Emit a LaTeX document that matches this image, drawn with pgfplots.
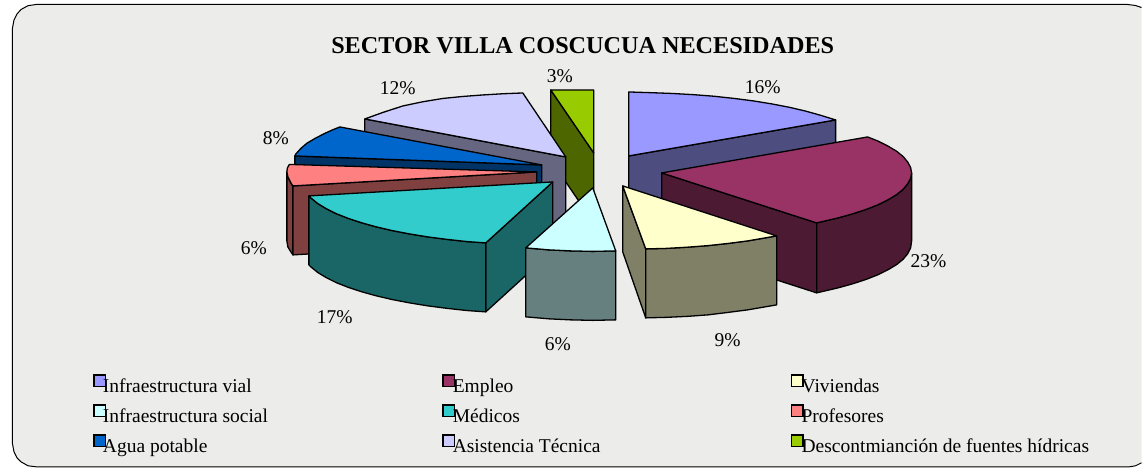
\documentclass[border=0pt]{standalone}
\usepackage{pgfplots}
\pgfplotsset{compat=1.18}
\usepackage{fontspec}
\setmainfont{Liberation Serif}
\definecolor{bgc}{HTML}{ECECEA}
\definecolor{aT}{HTML}{9999FF}\definecolor{aS}{HTML}{4D4D80}
\definecolor{bT}{HTML}{993366}\definecolor{bS}{HTML}{4D1A33}
\definecolor{cT}{HTML}{FFFFCC}\definecolor{cS}{HTML}{808066}
\definecolor{dT}{HTML}{CCFFFF}\definecolor{dS}{HTML}{668080}
\definecolor{eT}{HTML}{33CCCC}\definecolor{eS}{HTML}{1A6666}
\definecolor{fT}{HTML}{FF8080}\definecolor{fS}{HTML}{804040}
\definecolor{gT}{HTML}{0066CC}\definecolor{gS}{HTML}{003366}
\definecolor{hT}{HTML}{CCCCFF}\definecolor{hS}{HTML}{666680}
\definecolor{iT}{HTML}{99CC00}\definecolor{iS}{HTML}{4D6600}
\tikzset{sl/.style={fill=#1,draw=black,line width=1.3pt,line join=round},
  ky/.style={fill=#1,draw=black,line width=1.6pt,line join=miter},
  tx/.style={font=\fontsize{19.5}{21}\selectfont,text=black,inner sep=0pt,outer sep=0pt}}
\begin{document}
\begin{tikzpicture}
\begin{axis}[x=1pt,y=1pt,scale only axis,width=1142pt,height=468pt,
  xmin=0,xmax=1142,ymin=0,ymax=468,y dir=reverse,axis lines=none,clip=false]
\addplot[draw=none] coordinates {(0,0)(1142,468)};
% frame
\addplot[fill=bgc,draw=none] coordinates {
 (36,4.5)(1128,4.5)(1136,5.5)(1142,7.5)(1142,463)(1136,466)(1130,467)
 (36,467)(28,466)(21,462)(17,458)(14,452)(12.5,444)
 (12.5,28)(14,20)(17,14)(21,9.5)(28,5.7)} -- cycle;
\addplot[draw=black,line width=1pt,line join=round] coordinates {
 (1142,7.5)(1136,5.5)(1128,4.5)(36,4.5)(28,5.7)(21,9.5)(17,14)(14,20)(12.5,28)
 (12.5,444)(14,452)(17,458)(21,462)(28,466)(36,467)(1130,467)(1136,466)(1142,463)};
% 3% green
\addplot[sl=iS] coordinates {(551,90)(594,153)(594,223)(551,160)} -- cycle;
\addplot[sl=iT] coordinates {(551,90)(594,90)(594,153)} -- cycle;
% 12% lavender
\addplot[sl=hS] coordinates {(365,119)(566,157)(566,227)(365,189)} -- cycle;
\addplot[sl=hT] coordinates {(566,157)(523,93)(503,93.8)(483,95)(463,96.5)(443,98.5)(423,101.8)(403,106)(383,112.5)(365,119)} -- cycle;
% 8% blue
\addplot[sl=gS] coordinates {(295,156)(542,165)(542,235)(295,226)} -- cycle;
\addplot[sl=gT] coordinates {(542,165)(340,127)(332.5,130)(325.5,133.2)(316,138)(307,143.3)(301,148.5)(296,154)(295,156)} -- cycle;
% 6% pink
\addplot[sl=fS] coordinates {(287,172)(288,177)(291,183)(293,186)(293,255)(291,252)(288,247)(287,241)} -- cycle;
\addplot[sl=fS] coordinates {(537,172)(293,186)(293,255)(537,241)} -- cycle;
\addplot[sl=fT] coordinates {(537,172)(289.5,164.5)(287.5,168)(287,172)(288,177)(291,183)(293,186)} -- cycle;
% 17% teal
\addplot[sl=eS] coordinates {(553,182)(486,243)(486,312)(553,251)} -- cycle;
\addplot[sl=eS] coordinates {(309,196)(311.5,198.4)(318,203.7)(326.5,208.8)(336.5,213.8)(348.2,218.4)(361.5,222.8)(376.2,226.9)(392,230.6)(409.6,234)(428,237)(447.3,239.5)(467.5,241.7)(486,243)(486,312)(467.5,310.7)(447.3,308.5)(428,306)(409.6,303)(392,299.6)(376.2,295.9)(361.5,291.8)(348.2,287.4)(336.5,282.8)(326.5,277.8)(318,272.7)(311.5,267.4)(309,265)} -- cycle;
\addplot[sl=eT] coordinates {(553,182)(309,196)(311.5,198.4)(318,203.7)(326.5,208.8)(336.5,213.8)(348.2,218.4)(361.5,222.8)(376.2,226.9)(392,230.6)(409.6,234)(428,237)(447.3,239.5)(467.5,241.7)(486,243)} -- cycle;
% 16% blue
\addplot[sl=aS] coordinates {(629,156)(836,120)(836,190)(629,226)} -- cycle;
\addplot[sl=aT] coordinates {(629,156)(629,92)(650.8,92.7)(672.5,93.5)(693.7,94.7)(714.5,96.3)(734.7,98.5)(754,101)(772.4,104)(790,107.4)(805.8,111.1)(820.5,115.2)(836,120)} -- cycle;
% 23% burgundy
\addplot[sl=bS] coordinates {(662,173)(817,223)(817,293)(662,243)} -- cycle;
\addplot[sl=bS] coordinates {(912,173)(911,178.5)(908,184)(903.5,189.4)(897,194.7)(888.5,199.8)(878.5,204.8)(866.8,209.4)(853.5,213.8)(838.8,217.9)(823,221.6)(817,223)(817,293)(823,291.6)(838.8,287.9)(853.5,283.8)(866.8,279.4)(878.5,274.8)(888.5,269.8)(897,264.7)(903.5,259.4)(908,254)(911,248)(912,241)} -- cycle;
\addplot[sl=bT] coordinates {(662,173)(868,137)(878.5,141.2)(888.5,146.2)(897,151.3)(903.5,156.6)(908,162)(911,167.5)(912,173)(911,178.5)(908,184)(903.5,189.4)(897,194.7)(888.5,199.8)(878.5,204.8)(866.8,209.4)(853.5,213.8)(838.8,217.9)(823,221.6)(817,223)} -- cycle;
% 9% yellow
\addplot[sl=cS] coordinates {(623,186)(646,249)(646,318)(623,252)} -- cycle;
\addplot[sl=cS] coordinates {(646,249)(666.5,248.5)(687.7,247.3)(708.5,245.7)(728.7,243.5)(748,241)(777,236)(777,305)(748,310)(728.7,312.5)(708.5,315)(687.7,316.5)(666.5,317.5)(646,318)} -- cycle;
\addplot[sl=cT] coordinates {(623,186)(777,236)(748,241)(728.7,243.5)(708.5,245.7)(687.7,247.3)(666.5,248.5)(646,249)} -- cycle;
% 6% cyan
\addplot[sl=dS] coordinates {(526,248)(549.5,250)(571,251)(593,251.5)(616,251)(616,320)(593,320.5)(571,320)(549.5,319)(526,317)} -- cycle;
\addplot[sl=dT] coordinates {(593,188)(526,248)(549.5,250)(571,251)(593,251.5)(616,251)} -- cycle;
% legend keys
\addplot[ky=aT] coordinates {(94,375)(105.5,375)(105.5,386.5)(94,386.5)} -- cycle;
\addplot[ky=bT] coordinates {(443,375)(454.5,375)(454.5,386.5)(443,386.5)} -- cycle;
\addplot[ky=cT] coordinates {(792,375)(803.5,375)(803.5,386.5)(792,386.5)} -- cycle;
\addplot[ky=dT] coordinates {(94,405)(105.5,405)(105.5,416.5)(94,416.5)} -- cycle;
\addplot[ky=eT] coordinates {(443,405)(454.5,405)(454.5,416.5)(443,416.5)} -- cycle;
\addplot[ky=fT] coordinates {(792,405)(803.5,405)(803.5,416.5)(792,416.5)} -- cycle;
\addplot[ky=gT] coordinates {(94,435)(105.5,435)(105.5,446.5)(94,446.5)} -- cycle;
\addplot[ky=hT] coordinates {(443,435)(454.5,435)(454.5,446.5)(443,446.5)} -- cycle;
\addplot[ky=iT] coordinates {(792,435)(803.5,435)(803.5,446.5)(792,446.5)} -- cycle;
% text
\node[tx,anchor=base,font=\bfseries\fontsize{24.2}{26}\selectfont] at (axis cs:583,54) {SECTOR VILLA COSCUCUA NECESIDADES};
\node[tx,anchor=base] at (axis cs:763,94) {16\%};
\node[tx,anchor=base] at (axis cs:929,268) {23\%};
\node[tx,anchor=base] at (axis cs:728,347) {9\%};
\node[tx,anchor=base] at (axis cs:558,351) {6\%};
\node[tx,anchor=base] at (axis cs:335,324) {17\%};
\node[tx,anchor=base] at (axis cs:254,255) {6\%};
\node[tx,anchor=base] at (axis cs:276,145) {8\%};
\node[tx,anchor=base] at (axis cs:398,95) {12\%};
\node[tx,anchor=base] at (axis cs:560,83) {3\%};
\node[tx,anchor=base west] at (axis cs:103,392.5) {Infraestructura vial};
\node[tx,anchor=base west] at (axis cs:453,392.5) {Empleo};
\node[tx,anchor=base west] at (axis cs:802,392.5) {Viviendas};
\node[tx,anchor=base west] at (axis cs:103,422.5) {Infraestructura social};
\node[tx,anchor=base west] at (axis cs:453,422.5) {Médicos};
\node[tx,anchor=base west] at (axis cs:802,422.5) {Profesores};
\node[tx,anchor=base west] at (axis cs:103,452.5) {Agua potable};
\node[tx,anchor=base west] at (axis cs:453,452.5) {Asistencia Técnica};
\node[tx,anchor=base west] at (axis cs:802,452.5) {Descontmianción de fuentes hídricas};
\end{axis}
\end{tikzpicture}
\end{document}
